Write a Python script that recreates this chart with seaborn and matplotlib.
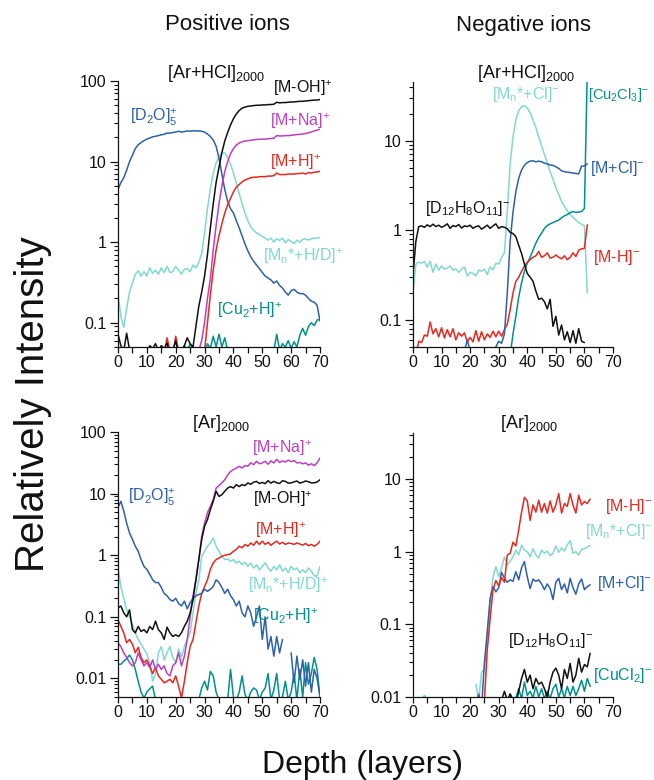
import numpy as np
import pandas as pd
import matplotlib
matplotlib.use("Agg")
import matplotlib.pyplot as plt
import seaborn as sns
from matplotlib.ticker import FixedLocator, LogLocator, NullFormatter, FuncFormatter

nan = np.nan

# ---------------- data: relative intensity per sputtered layer ----------------
# Positive ions, [Ar+HCl]2000 sputtering
pos_hcl_d2o = [4.5, 5.5, 6.3, 7.8, 10, 12, 14.5, 16.2, 17.2, 18.2,
               19, 19.6, 20.3, 20.6, 21, 21.5, 21.8, 22.6, 22.5, 23,
               23.2, 23.8, 23.2, 23.6, 24, 23.8, 24.2, 24, 24, 23.8,
               23.2, 22, 20.5, 18.5, 15.5, 11, 7, 4.5, 3.2, 2.6,
               2.3, 1.85, 1.5, 1.2, 0.95, 0.78, 0.66, 0.58, 0.52, 0.47,
               0.42, 0.38, 0.36, 0.34, 0.31, 0.33, 0.29, 0.27, 0.24, 0.22,
               0.25, 0.26, 0.24, 0.23, 0.23, 0.22, 0.2, 0.185, 0.18, 0.165,
               0.105]
pos_hcl_mnhd = [0.23, 0.12, 0.088, 0.15, 0.24, 0.31, 0.4, 0.44, 0.38, 0.43,
                0.38, 0.48, 0.41, 0.45, 0.4, 0.48, 0.42, 0.5, 0.42, 0.43,
                0.5, 0.45, 0.4, 0.46, 0.47, 0.43, 0.52, 0.48, 0.56, 0.72,
                1.3, 2.6, 4.6, 7.2, 9.6, 11.6, 12.6, 12.8, 11.3, 9.2,
                7.3, 5.4, 4.0, 3.0, 2.3, 1.85, 1.55, 1.4, 1.3, 1.25,
                1.18, 1.12, 1.06, 1.12, 1.0, 1.1, 1.05, 1.12, 0.98, 1.08,
                1.02, 0.96, 1.06, 1.0, 1.08, 1.1, 1.06, 1.1, 1.12, 1.12,
                1.14]
pos_hcl_moh = [0.072, 0.052, 0.045, 0.074, 0.046, 0.04, 0.04, 0.04, 0.04, 0.04,
               0.04, 0.052, 0.048, 0.055, 0.045, 0.052, 0.048, 0.056, 0.04, 0.045,
               0.06, 0.04, 0.045, 0.052, 0.065, 0.055, 0.05, 0.09, 0.16, 0.24,
               0.38, 0.7, 1.5, 3.0, 5.5, 8.5, 13, 18, 23, 28.5,
               34, 39, 43, 46, 47.5, 48.5, 49, 49.5, 50, 50,
               50.5, 50.5, 51, 51, 51.5, 54.5, 53.5, 54, 54, 54.5,
               55, 55, 55.5, 56, 56, 56.5, 57, 57.5, 58, 58,
               59]
pos_hcl_mna = [0.04, 0.045, 0.06, 0.1, 0.2, 0.35, 0.8, 1.6, 3.0, 5.0,
               7.5, 10, 12.5, 14.5, 16, 17, 17.6, 18, 18.2, 18.4,
               18.6, 18.8, 18.9, 19, 19, 19.2, 19.3, 19.5, 21, 20.8,
               20.8, 21, 21, 21.2, 21.4, 21.6, 21.8, 22, 22.3, 22.8,
               23.3, 24, 24.6, 25.2]
pos_hcl_mh = [0.04, 0.04, 0.065, 0.045, 0.04, 0.068, 0.045, 0.04, 0.04, 0.04,
              0.045, 0.052, 0.04, 0.04, 0.04, 0.045, 0.1, 0.22, 0.45, 0.8,
              1.2, 1.7, 2.3, 2.9, 3.5, 4.2, 4.8, 5.2, 5.6, 5.9,
              6.1, 6.3, 6.4, 6.4, 6.5, 6.5, 6.5, 6.6, 6.6, 6.7,
              7.2, 6.9, 6.9, 6.9, 7.0, 7.0, 7.0, 7.1, 7.1, 7.2,
              7.0, 7.3, 7.2, 7.4, 7.4, 7.6]
pos_hcl_cu2h = [0.04, 0.052, 0.045, 0.055, 0.045, 0.04, 0.04, 0.04, 0.04, 0.055,
                0.048, 0.068, 0.05, 0.072, 0.05, 0.065, 0.045,
                nan, nan, nan, nan, nan, nan, nan, nan, nan, nan, nan, nan, nan, nan, nan,
                0.045, 0.072, 0.046, 0.055, 0.05, 0.06, 0.048, 0.058, 0.05, 0.07,
                0.085, 0.07, 0.09, 0.1, 0.092, 0.108, 0.11]

# Negative ions, [Ar+HCl]2000 sputtering
neg_hcl_d12 = [0.32, 0.75, 1.1, 1.12, 1.08, 1.15, 1.1, 1.17, 1.1, 1.14,
               1.08, 1.12, 1.18, 1.05, 1.13, 1.1, 1.16, 1.06, 1.12, 1.1,
               1.14, 1.05, 1.1, 1.12, 1.03, 1.08, 1.14, 1.05, 1.12, 1.18,
               1.05, 1.1, 1.08, 1.04, 0.95, 0.92, 0.85, 0.68, 0.55, 0.42,
               0.33, 0.3, 0.27, 0.21, 0.17, 0.175, 0.16, 0.133, 0.17, 0.085,
               0.11, 0.068, 0.088, 0.06, 0.074, 0.056, 0.076, 0.055, 0.08, 0.058,
               0.056]
neg_hcl_mncl = [0.2, 0.42, 0.44, 0.43, 0.45, 0.39, 0.45, 0.34, 0.42, 0.36,
                0.4, 0.37, 0.38, 0.4, 0.36, 0.37, 0.34, 0.37, 0.39, 0.31,
                0.34, 0.33, 0.31, 0.36, 0.35, 0.37, 0.32, 0.39, 0.36, 0.43,
                0.42, 0.5, 0.56, 1.6, 5.5, 11, 17, 21.5, 24, 24.5,
                23, 20.5, 17, 14, 11, 8.8, 7, 5.6, 4.5, 3.7,
                3.0, 2.5, 2.1, 1.85, 1.65, 1.5, 1.4, 1.3, 1.22, 1.17,
                1.12, 0.2]
neg_hcl_mcl = [0.04, 0.045, 0.06, 0.045, 0.04, 0.04, 0.04, 0.04, 0.04, 0.04,
               0.04, 0.045, 0.05, 0.058, 0.055, 0.07, 0.2, 0.75, 1.6, 2.7,
               3.8, 4.7, 5.3, 5.7, 5.9, 5.95, 5.8, 5.9, 5.8, 5.6,
               5.5, 5.35, 5.3, 5.1, 4.9, 4.6, 4.5, 4.45, 4.4, 4.35,
               4.3, 4.25, 5.2, 5.2, 5.5]
neg_hcl_cu2cl3 = [0.04, 0.07, 0.11, 0.18, 0.26, 0.35, 0.43, 0.5, 0.6, 0.72,
                  0.83, 0.93, 1.05, 1.13, 1.18, 1.22, 1.26, 1.3, 1.38, 1.45,
                  1.5, 1.57, 1.62, 1.58, 1.6, 1.62, 1.75, 60]
neg_hcl_mh = [0.04, 0.04, 0.058, 0.056, 0.068, 0.066, 0.095, 0.07, 0.08, 0.065,
              0.082, 0.063, 0.078, 0.065, 0.08, 0.06, 0.072, 0.066, 0.072, 0.057,
              0.064, 0.057, 0.076, 0.058, 0.074, 0.06, 0.07, 0.064, 0.075, 0.065,
              0.075, 0.066, 0.078, 0.09, 0.13, 0.2, 0.27, 0.3, 0.35, 0.4,
              0.44, 0.47, 0.5, 0.52, 0.58, 0.5, 0.52, 0.56, 0.49, 0.5,
              0.53, 0.5, 0.48, 0.52, 0.47, 0.5, 0.56, 0.51, 0.6, 0.62,
              0.63, 1.15]

# Positive ions, [Ar]2000 sputtering
pos_ar_d2o = [6.0, 7.5, 5.2, 3.3, 2.3, 1.8, 1.4, 1.16, 0.85, 0.66,
              0.59, 0.49, 0.4, 0.36, 0.36, 0.3, 0.24, 0.22, 0.19, 0.18,
              0.2, 0.165, 0.15, 0.18, 0.135, 0.17, 0.2, 0.22, 0.23, 0.24,
              0.28, 0.26, 0.28, 0.31, 0.4, 0.36, 0.3, 0.24, 0.28, 0.22,
              0.19, 0.15, 0.18, 0.116, 0.1, 0.15, 0.116, 0.07, 0.1, 0.15,
              0.043, 0.1, 0.03, 0.048, 0.023, 0.048, 0.026, 0.043, nan, nan,
              0.026, 0.0085, 0.023, 0.0097, 0.02, 0.0075, 0.018, 0.006, 0.014, 0.01,
              0.005]
pos_ar_moh = [0.14, 0.15, 0.116, 0.1, 0.13, 0.062, 0.055, 0.07, 0.058, 0.062,
              0.055, 0.07, 0.062, 0.085, 0.062, 0.055, 0.043, 0.068, 0.055, 0.048,
              0.051, 0.048, 0.055, 0.07, 0.085, 0.116, 0.19, 0.4, 0.85, 1.8,
              2.95, 3.8, 5.5, 7.5, 10.9, 9, 9.6, 10.9, 12.3, 13,
              12.3, 14, 13, 14, 13.5, 14.9, 14.2, 15.3, 15.8, 14.6,
              15.2, 14.5, 16.2, 14.8, 15.8, 15, 14.6, 16.2, 15.8, 14.8,
              14.9, 15.5, 16, 14.8, 15.3, 16, 15.6, 14.9, 15, 15.4,
              16.8]
pos_ar_mna = [0.038, 0.033, 0.026, 0.022, 0.018, 0.016, 0.018, 0.026, 0.02, 0.016,
              0.018, 0.015, 0.02, 0.014, 0.017, 0.014, 0.016, 0.012, 0.011, 0.016,
              0.018, 0.026, 0.016, 0.023, 0.043, 0.1, 0.22, 0.4, 0.85, 2.0,
              3.3, 4.9, 6.2, 8.0, 12.3, 13.5, 15, 16.8, 20, 23,
              24.5, 26, 27.8, 26, 28.5, 27.8, 31.5, 29.5, 33.5, 30.5,
              31.5, 33.5, 30, 34, 31.5, 36, 32, 34, 32.5, 35,
              33, 34.5, 31.5, 32, 30.5, 31.5, 29, 30.5, 28.5, 31.5,
              38]
pos_ar_mh = [0.09, 0.07, 0.055, 0.038, 0.043, 0.036, 0.026, 0.032, 0.022, 0.018,
             0.02, 0.016, 0.012, 0.015, 0.011, 0.0097, 0.0085, 0.009, 0.0097, 0.0085,
             0.011, 0.0075, 0.0048, 0.009, 0.018, 0.033, 0.043, 0.08, 0.15, 0.24,
             0.31, 0.4, 0.59, 0.75, 0.85, 0.9, 0.96, 1.0, 1.02, 1.05,
             1.16, 1.24, 1.4, 1.32, 1.49, 1.4, 1.58, 1.45, 1.69, 1.5,
             1.69, 1.5, 1.62, 1.45, 1.58, 1.69, 1.52, 1.62, 1.5, 1.58,
             1.55, 1.5, 1.58, 1.52, 1.46, 1.55, 1.43, 1.5, 1.4, 1.5,
             1.69]
pos_ar_mnhd = [0.62, 0.31, 0.2, 0.13, 0.1, 0.075, 0.055, 0.043, 0.036, 0.03,
               0.025, 0.018, 0.009, 0.012, 0.026, 0.033, 0.02, 0.026, 0.033, 0.022,
               0.018, 0.03, 0.022, 0.033, 0.043, 0.055, 0.116, 0.24, 0.4, 0.96,
               1.16, 1.4, 1.58, 1.9, 1.4, 1.16, 0.96, 0.85, 0.87, 0.8,
               0.85, 0.75, 0.8, 0.7, 0.77, 0.66, 0.75, 0.62, 0.7, 0.58,
               0.66, 0.75, 0.62, 0.55, 0.66, 0.58, 0.7, 0.55, 0.62, 0.52,
               0.66, 0.58, 0.62, 0.52, 0.58, 0.52, 0.62, 0.55, 0.46, 0.46,
               0.66]
pos_ar_cu2h = [0.017, 0.017, 0.019, 0.021, 0.024, 0.02, 0.014, 0.009, 0.006, 0.0048,
               0.006, 0.0068, 0.0075, 0.0045, nan, nan, nan, nan, nan, nan,
               nan, nan, nan, nan, nan, nan, nan, nan, 0.0045, 0.007,
               0.009, 0.0065, 0.013, 0.011, 0.006, 0.0045, nan, nan, 0.0045, 0.014,
               0.005, 0.0045, 0.006, 0.011, 0.0055, 0.0045, 0.006, 0.007, 0.0065, 0.0045,
               0.006, 0.007, 0.012, 0.0045, 0.0065, 0.012, 0.0045, 0.005, 0.009, 0.0045,
               0.006, 0.012, 0.0045, 0.014, 0.005, 0.018, 0.008, 0.012, 0.022, 0.014,
               0.005]

# Negative ions, [Ar]2000 sputtering
neg_ar_mh = [0.006, 0.009, 0.045, 0.12, 0.3, 0.4, 0.34, 0.44, 0.38, 0.9,
             0.95, 1.35, 1.2, 2.0, 3.5, 5.6, 5.0, 2.7, 4.4, 3.5,
             5.1, 3.5, 4.6, 3.4, 5.0, 3.5, 4.4, 6.3, 3.4, 4.6,
             4.2, 6.3, 4.4, 3.4, 6.0, 4.4, 4.9, 4.6, 5.3]
neg_ar_mncl = [0.0095, 0.0105, 0.0095,
               nan, nan, nan, nan, nan, nan, nan, nan, nan, nan, nan, nan, nan, nan, nan, nan,
               0.015, 0.009, 0.022, 0.024, 0.07, 0.2, 0.45, 0.62, 0.45, 0.6,
               0.85, 0.66, 0.74, 0.85, 1.05, 0.9, 1.23, 1.05, 1.0, 0.85,
               1.1, 0.9, 0.82, 1.05, 0.95, 1.02, 0.88, 0.95, 1.2, 0.98,
               1.13, 1.02, 1.25, 1.42, 0.95, 1.0, 0.9, 1.08, 1.1, 1.15,
               1.22]
neg_ar_mcl = [0.008, 0.011, 0.007, 0.03, 0.08, 0.23, 0.33, 0.28, 0.32, 0.52,
              0.43, 0.38, 0.41, 0.39, 0.53, 0.41, 0.6, 0.73, 0.45, 0.31,
              0.42, 0.39, 0.41, 0.36, 0.3, 0.36, 0.31, 0.22, 0.38, 0.43,
              0.3, 0.36, 0.27, 0.43, 0.32, 0.26, 0.36, 0.42, 0.3, 0.33,
              0.35]
neg_ar_d12 = [0.009, 0.012, 0.009, 0.011, 0.009, 0.008, 0.012, 0.018, 0.024, 0.016,
              0.02, 0.013, 0.018, 0.015, 0.016, 0.013, 0.01, 0.016, 0.022, 0.025,
              0.02, 0.013, 0.024, 0.018, 0.029, 0.016, 0.02, 0.034, 0.022, 0.028,
              0.026, 0.04]
neg_ar_cucl2 = [0.008, 0.011, 0.009, 0.0098, 0.013, 0.0095, 0.016, 0.0105, 0.012, 0.0098,
                0.014, 0.01, 0.013, 0.0095, 0.012, 0.0095, 0.013, 0.015, 0.01, 0.013,
                0.0098, 0.014, 0.0105, 0.014, 0.0105, 0.013, 0.017, 0.012, 0.018, 0.014]

# ---------------- style ----------------
sns.set_theme(style="ticks")
plt.rcParams["font.family"] = ["Liberation Sans", "DejaVu Sans"]
plt.rcParams["mathtext.fontset"] = "custom"
plt.rcParams["mathtext.rm"] = "Liberation Sans"
plt.rcParams["mathtext.it"] = "Liberation Sans:italic"
plt.rcParams["mathtext.bf"] = "Liberation Sans:bold"
plt.rcParams["mathtext.default"] = "regular"
plt.rcParams["axes.linewidth"] = 0.9

BLACK = "#111111"
BLUE = "#2d60ad"
CYAN = "#80d9cf"
TEAL = "#00928a"
RED = "#e8271e"
MAGENTA = "#bf3fbf"

W, H = 654, 780
fig = plt.figure(figsize=(W / 100, H / 100), dpi=100)
fig.patch.set_facecolor("white")


def panel(left, top, right, bottom):
    ax = fig.add_axes([left / W, 1 - bottom / H, (right - left) / W, (bottom - top) / H])
    ax.set_facecolor("white")
    ax.set_yscale("log")
    return ax


def trace(ax, start, vals, color):
    vals = np.asarray(vals, dtype=float)
    frame = pd.DataFrame({"depth": np.arange(start, start + len(vals)), "intensity": vals})
    frame["segment"] = frame["intensity"].isna().cumsum()
    frame = frame.dropna()
    sns.lineplot(data=frame, x="depth", y="intensity", units="segment", estimator=None,
                 sort=False, color=color, lw=1.1, ax=ax, legend=False)


def finish(ax, ylim):
    ax.set_xlim(0, 70)
    ax.set_ylim(*ylim)
    ax.set_xlabel("")
    ax.set_ylabel("")
    sns.despine(ax=ax)
    ax.xaxis.set_major_locator(FixedLocator(range(0, 71, 10)))
    ax.xaxis.set_minor_locator(FixedLocator(range(5, 71, 10)))
    ax.yaxis.set_major_locator(LogLocator(base=10, numticks=12))
    ax.yaxis.set_minor_locator(LogLocator(base=10, subs=np.arange(2, 10), numticks=40))
    ax.yaxis.set_minor_formatter(NullFormatter())
    ax.yaxis.set_major_formatter(FuncFormatter(lambda v, p: f"{v:g}"))
    ax.tick_params(axis="x", which="both", direction="out", length=4.5, width=0.9,
                   labelsize=11.5, pad=1.5, color=BLACK, labelcolor=BLACK)
    ax.tick_params(axis="y", which="major", direction="out", length=5.5, width=0.9,
                   labelsize=11.5, pad=3, color=BLACK, labelcolor=BLACK)
    ax.tick_params(axis="y", which="minor", direction="out", length=3, width=0.8, color=BLACK)
    for s in ax.spines.values():
        s.set_color(BLACK)


def label(x, y, text, color, size=11.5):
    fig.text(x / W, 1 - y / H, text, color=color, fontsize=size, ha="left", va="baseline")


# Positive ions, [Ar+HCl]2000
ax = panel(118, 81, 320, 347)
trace(ax, 0, pos_hcl_mnhd, CYAN)
trace(ax, 22, pos_hcl_cu2h, TEAL)
trace(ax, 0, pos_hcl_d2o, BLUE)
trace(ax, 15, pos_hcl_mh, RED)
trace(ax, 27, pos_hcl_mna, MAGENTA)
trace(ax, 0, pos_hcl_moh, BLACK)
finish(ax, (0.05, 100))

# Negative ions, [Ar+HCl]2000
ax = panel(413, 82, 613, 347)
trace(ax, 0, neg_hcl_mncl, CYAN)
trace(ax, 34, neg_hcl_cu2cl3, TEAL)
trace(ax, 0, neg_hcl_mh, RED)
trace(ax, 17, neg_hcl_mcl, BLUE)
trace(ax, 0, neg_hcl_d12, BLACK)
finish(ax, (0.05, 45))

# Positive ions, [Ar]2000
ax = panel(118, 432, 320, 697)
trace(ax, 0, pos_ar_cu2h, TEAL)
trace(ax, 0, pos_ar_mnhd, CYAN)
trace(ax, 0, pos_ar_mh, RED)
trace(ax, 0, pos_ar_mna, MAGENTA)
trace(ax, 0, pos_ar_d2o, BLUE)
trace(ax, 0, pos_ar_moh, BLACK)
finish(ax, (0.005, 100))

# Negative ions, [Ar]2000
ax = panel(413, 433, 613, 697)
trace(ax, 33, neg_ar_cucl2, TEAL)
trace(ax, 31, neg_ar_d12, BLACK)
trace(ax, 3, neg_ar_mncl, CYAN)
trace(ax, 22, neg_ar_mcl, BLUE)
trace(ax, 24, neg_ar_mh, RED)
finish(ax, (0.01, 43))

# panel titles
label(167, 78, r"[Ar+HCl]$_{2000}$", BLACK, 13)
label(477, 78, r"[Ar+HCl]$_{2000}$", BLACK, 13)
label(192, 428, r"[Ar]$_{2000}$", BLACK, 13)
label(500, 428, r"[Ar]$_{2000}$", BLACK, 13)

# species labels, positive / [Ar+HCl]
label(273, 93, r"[M-OH]$^{+}$", BLACK)
label(130, 121, r"[D$_2$O]$_5^{+}$", BLUE)
label(270, 126, r"[M+Na]$^{+}$", MAGENTA)
label(270, 167, r"[M+H]$^{+}$", RED)
label(263, 261, r"[M$_n$*+H/D]$^{+}$", CYAN)
label(217, 315, r"[Cu$_2$+H]$^{+}$", TEAL)

# species labels, negative / [Ar+HCl]
label(492, 99, r"[M$_n$*+Cl]$^{-}$", CYAN)
label(588, 99, r"[Cu$_2$Cl$_3$]$^{-}$", TEAL, 10.5)
label(590, 173, r"[M+Cl]$^{-}$", BLUE)
label(425, 213, r"[D$_{12}$H$_8$O$_{11}$]$^{-}$", BLACK)
label(593, 262, r"[M-H]$^{-}$", RED)

# species labels, positive / [Ar]
label(252, 453, r"[M+Na]$^{+}$", MAGENTA)
label(128, 501, r"[D$_2$O]$_5^{+}$", BLUE)
label(253, 504, r"[M-OH]$^{+}$", BLACK)
label(255, 535, r"[M+H]$^{+}$", RED)
label(248, 590, r"[M$_n$*+H/D]$^{+}$", CYAN)
label(253, 621, r"[Cu$_2$+H]$^{+}$", TEAL)

# species labels, negative / [Ar]
label(605, 511, r"[M-H]$^{-}$", RED)
label(585, 536, r"[M$_n$*+Cl]$^{-}$", CYAN)
label(597, 588, r"[M+Cl]$^{-}$", BLUE)
label(508, 645, r"[D$_{12}$H$_8$O$_{11}$]$^{-}$", BLACK)
label(593, 680, r"[CuCl$_2$]$^{-}$", TEAL)

# column headers and shared axis titles
fig.text(227 / W, 1 - 25 / H, "Positive ions", fontsize=16, ha="center", va="center", color=BLACK)
fig.text(523 / W, 1 - 25 / H, "Negative ions", fontsize=16, ha="center", va="center", color=BLACK)
fig.text(33 / W, 1 - 404 / H, "Relatively Intensity", fontsize=29, rotation=90,
         ha="center", va="center", color=BLACK)
fig.text(363 / W, 1 - 765 / H, "Depth (layers)", fontsize=23, ha="center", va="center", color=BLACK)

fig.savefig("out.png", dpi=100, facecolor="white")
